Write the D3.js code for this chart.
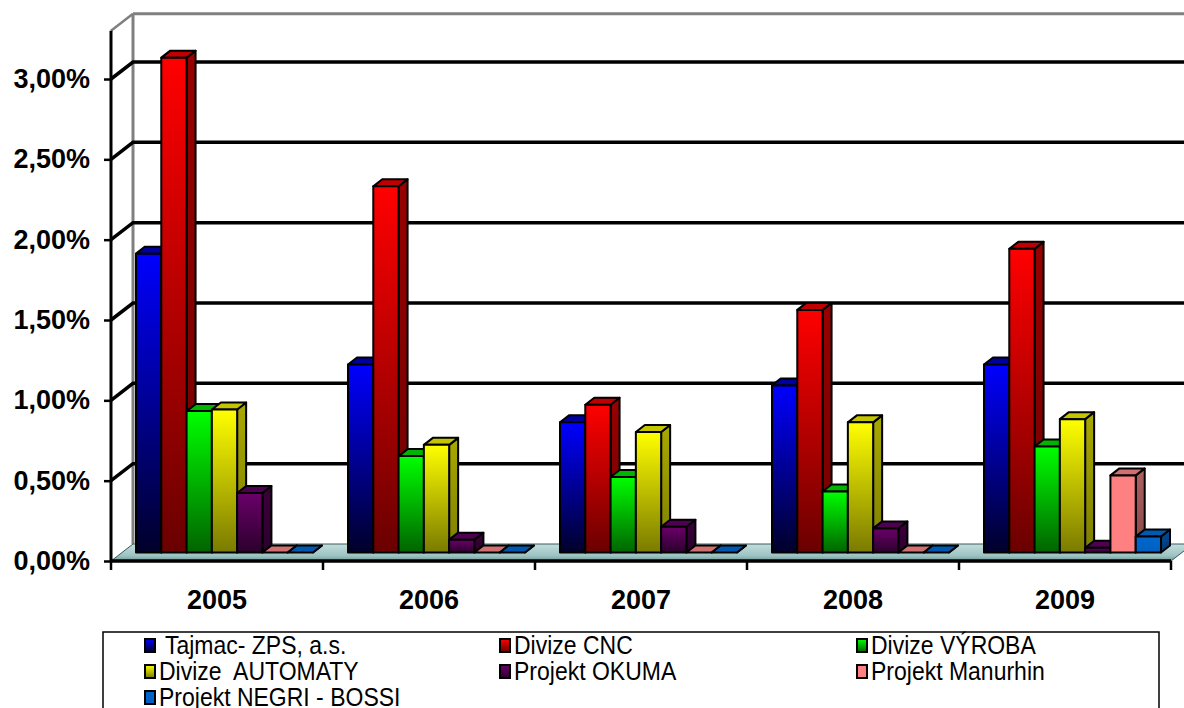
<!DOCTYPE html>
<html>
<head>
<meta charset="utf-8">
<script src="https://cdn.jsdelivr.net/npm/d3@7"></script>
<style>
  body { margin: 0; background: #fff; }
  svg { display: block; }
</style>
</head>
<body>
<div class="chart"></div>
<script>
// data (values in percent)
var years = ["2005", "2006", "2007", "2008", "2009"];
var seriesNames = ["Tajmac- ZPS, a.s.", "Divize CNC", "Divize VÝROBA", "Divize  AUTOMATY",
                   "Projekt OKUMA", "Projekt Manurhin", "Projekt NEGRI - BOSSI"];
var tajmac   = [1.86, 1.17, 0.81, 1.04, 1.17];
var cnc      = [3.08, 2.28, 0.92, 1.51, 1.89];
var vyroba   = [0.88, 0.60, 0.47, 0.38, 0.66];
var automaty = [0.89, 0.67, 0.75, 0.81, 0.83];
var okuma    = [0.37, 0.08, 0.16, 0.15, 0.03];
var manurhin = [0, 0, 0, 0, 0.48];
var negri    = [0, 0, 0, 0, 0.10];
var tickValues = [0, 0.5, 1.0, 1.5, 2.0, 2.5, 3.0];
var seriesValues = [tajmac, cnc, vyroba, automaty, okuma, manurhin, negri];

// colours: [top of front face, bottom of front face, side, top]
var colors = [
  ["#0000ff", "#00002a", "#000070", "#0000a0"],
  ["#ff0000", "#6a0000", "#980000", "#c00000"],
  ["#00ff00", "#006400", "#009000", "#00b400"],
  ["#ffff00", "#7a7a00", "#a8a800", "#c4c400"],
  ["#6a006a", "#2c002c", "#3c003c", "#500050"],
  ["#ff8080", "#ff8080", "#b06060", "#d07070"],
  ["#0066cc", "#0060c0", "#004c99", "#0058b0"]
];

var svgWidth = 1184, svgHeight = 708;
var X0 = 111, X1 = 1171, Y0 = 561;   // front edge of the floor
var DX = 22, DY = -17;                 // full depth of the plot
var BDX = 9, BDY = -7;                 // depth of one bar

var svg = d3.select(".chart").append("svg")
  .attr("width", svgWidth).attr("height", svgHeight);
var defs = svg.append("defs");

// scales
var yFront = d3.scaleLinear().domain([0, 3.0]).range([Y0, 79]);
var x0 = d3.scaleBand().domain(years).range([X0, X1]);
var x1 = d3.scaleBand().domain(d3.range(seriesNames.length)).range([14, 191]);
var fmt = d3.formatLocale({ decimal: ",", thousands: " ", grouping: [3], currency: ["", ""] }).format(".2f");

// gradients
colors.forEach(function(c, i) {
  var g = defs.append("linearGradient").attr("id", "g" + i)
    .attr("x1", 0).attr("y1", 0).attr("x2", 0).attr("y2", 1);
  g.append("stop").attr("offset", "0%").attr("stop-color", c[0]);
  g.append("stop").attr("offset", "100%").attr("stop-color", c[1]);
  var s = defs.append("linearGradient").attr("id", "s" + i)
    .attr("x1", 0).attr("y1", 0).attr("x2", 0).attr("y2", 1);
  s.append("stop").attr("offset", "0%").attr("stop-color", c[2]);
  s.append("stop").attr("offset", "100%").attr("stop-color", d3.color(c[2]).darker(0.8));
});
var fg = defs.append("linearGradient").attr("id", "floor")
  .attr("x1", 0).attr("y1", 0).attr("x2", 0).attr("y2", 1);
fg.append("stop").attr("offset", "0%").attr("stop-color", "#c4dede");
fg.append("stop").attr("offset", "70%").attr("stop-color", "#9cc2c2");
fg.append("stop").attr("offset", "100%").attr("stop-color", "#6f9494");

var topV = 3.3;

// walls
svg.append("line").attr("x1", X0 + DX).attr("y1", yFront(topV) + DY)
  .attr("x2", X1 + DX).attr("y2", yFront(topV) + DY)
  .attr("stroke", "#808080").attr("stroke-width", 3);
svg.append("line").attr("x1", X0 + DX).attr("y1", yFront(topV) + DY)
  .attr("x2", X0 + DX).attr("y2", Y0 + DY)
  .attr("stroke", "#808080").attr("stroke-width", 3);
svg.append("line").attr("x1", X0).attr("y1", yFront(topV))
  .attr("x2", X0 + DX).attr("y2", yFront(topV) + DY)
  .attr("stroke", "#808080").attr("stroke-width", 2.5);

// gridlines on back and side wall
var grid = svg.append("g").attr("stroke", "#000").attr("stroke-width", 3.5).attr("fill", "none");
tickValues.filter(function(v) { return v > 0; }).forEach(function(v) {
  var yf = yFront(v);
  grid.append("path").attr("d", "M" + X0 + "," + yf + "L" + (X0 + DX) + "," + (yf + DY) + "L" + (X1 + DX) + "," + (yf + DY));
});

// floor
svg.append("polygon")
  .attr("points", [[X0, Y0], [X0 + DX, Y0 + DY], [X1 + DX, Y0 + DY], [X1, Y0]].join(" "))
  .attr("fill", "url(#floor)").attr("stroke", "#3c5a5a").attr("stroke-width", 1);

// bars
var bars = svg.append("g").attr("stroke", "#000").attr("stroke-width", 2).attr("stroke-linejoin", "round");
var midX = DX / 2, midY = DY / 2;
years.forEach(function(yr, yi) {
  seriesValues.forEach(function(vals, si) {
    var v = vals[yi];
    var w = x1.bandwidth();
    var x = x0(yr) + x1(si) + midX;
    var yb = Y0 + midY;
    var yt = yFront(v) + midY;
    var g = bars.append("g");
    g.append("polygon")
      .attr("points", [[x + w, yb], [x + w + BDX, yb + BDY], [x + w + BDX, yt + BDY], [x + w, yt]].join(" "))
      .attr("fill", "url(#s" + si + ")");
    g.append("polygon")
      .attr("points", [[x, yt], [x + BDX, yt + BDY], [x + w + BDX, yt + BDY], [x + w, yt]].join(" "))
      .attr("fill", colors[si][3]);
    if (v > 0) {
      g.append("rect").attr("x", x).attr("y", yt).attr("width", w).attr("height", yb - yt)
        .attr("fill", "url(#g" + si + ")");
    }
  });
});

// front axis line and category ticks
svg.append("line").attr("x1", X0).attr("y1", Y0).attr("x2", X1).attr("y2", Y0)
  .attr("stroke", "#000").attr("stroke-width", 3.5);
years.concat(["end"]).forEach(function(yr, i) {
  var x = X0 + i * x0.step();
  svg.append("line").attr("x1", x).attr("y1", Y0).attr("x2", x).attr("y2", Y0 + 9)
    .attr("stroke", "#000").attr("stroke-width", 2.5);
});

// y axis
var leftAxis = d3.axisLeft(yFront).tickValues(tickValues)
  .tickFormat(function(d) { return fmt(d) + "%"; })
  .tickSize(7).tickSizeOuter(0).tickPadding(14);
var ya = svg.append("g").attr("transform", "translate(" + X0 + ",0)").call(leftAxis);
ya.select(".domain").attr("d", "M0," + yFront(topV) + "V" + Y0).attr("stroke", "#000").attr("stroke-width", 3);
ya.selectAll(".tick line").attr("stroke", "#000").attr("stroke-width", 2.5);
ya.selectAll("text").attr("fill", "#000")
  .style("font-family", "'Liberation Sans', Arial, sans-serif")
  .style("font-size", "27px").style("font-weight", "bold");

// x axis labels
var bottomAxis = d3.axisBottom(x0).tickSize(0).tickPadding(29);
var xa = svg.append("g").attr("transform", "translate(0," + Y0 + ")").call(bottomAxis);
xa.select(".domain").remove();
xa.selectAll("text").attr("fill", "#000")
  .style("font-family", "'Liberation Sans', Arial, sans-serif")
  .style("font-size", "27px").style("font-weight", "bold");

// legend
var legend = svg.append("g");
legend.append("rect").attr("x", 103).attr("y", 632).attr("width", 1056).attr("height", 110)
  .attr("fill", "#fff").attr("stroke", "#000").attr("stroke-width", 1.5);
var colX = [145, 500, 857];
seriesNames.forEach(function(name, i) {
  var cx = colX[i % 3], cy = 645 + Math.floor(i / 3) * 26;
  legend.append("rect").attr("x", cx).attr("y", cy - 6).attr("width", 10).attr("height", 13)
    .attr("fill", "url(#g" + i + ")").attr("stroke", "#000").attr("stroke-width", 2);
  legend.append("text")
    .attr("transform", "translate(" + (cx + 14) + "," + (cy + 9) + ") scale(1,1.12)")
    .style("font-family", "'Liberation Sans', Arial, sans-serif")
    .style("font-size", "23px")
    .style("white-space", "pre")
    .attr("xml:space", "preserve")
    .text(i === 0 ? " " + name : name);
});
</script>
</body>
</html>
